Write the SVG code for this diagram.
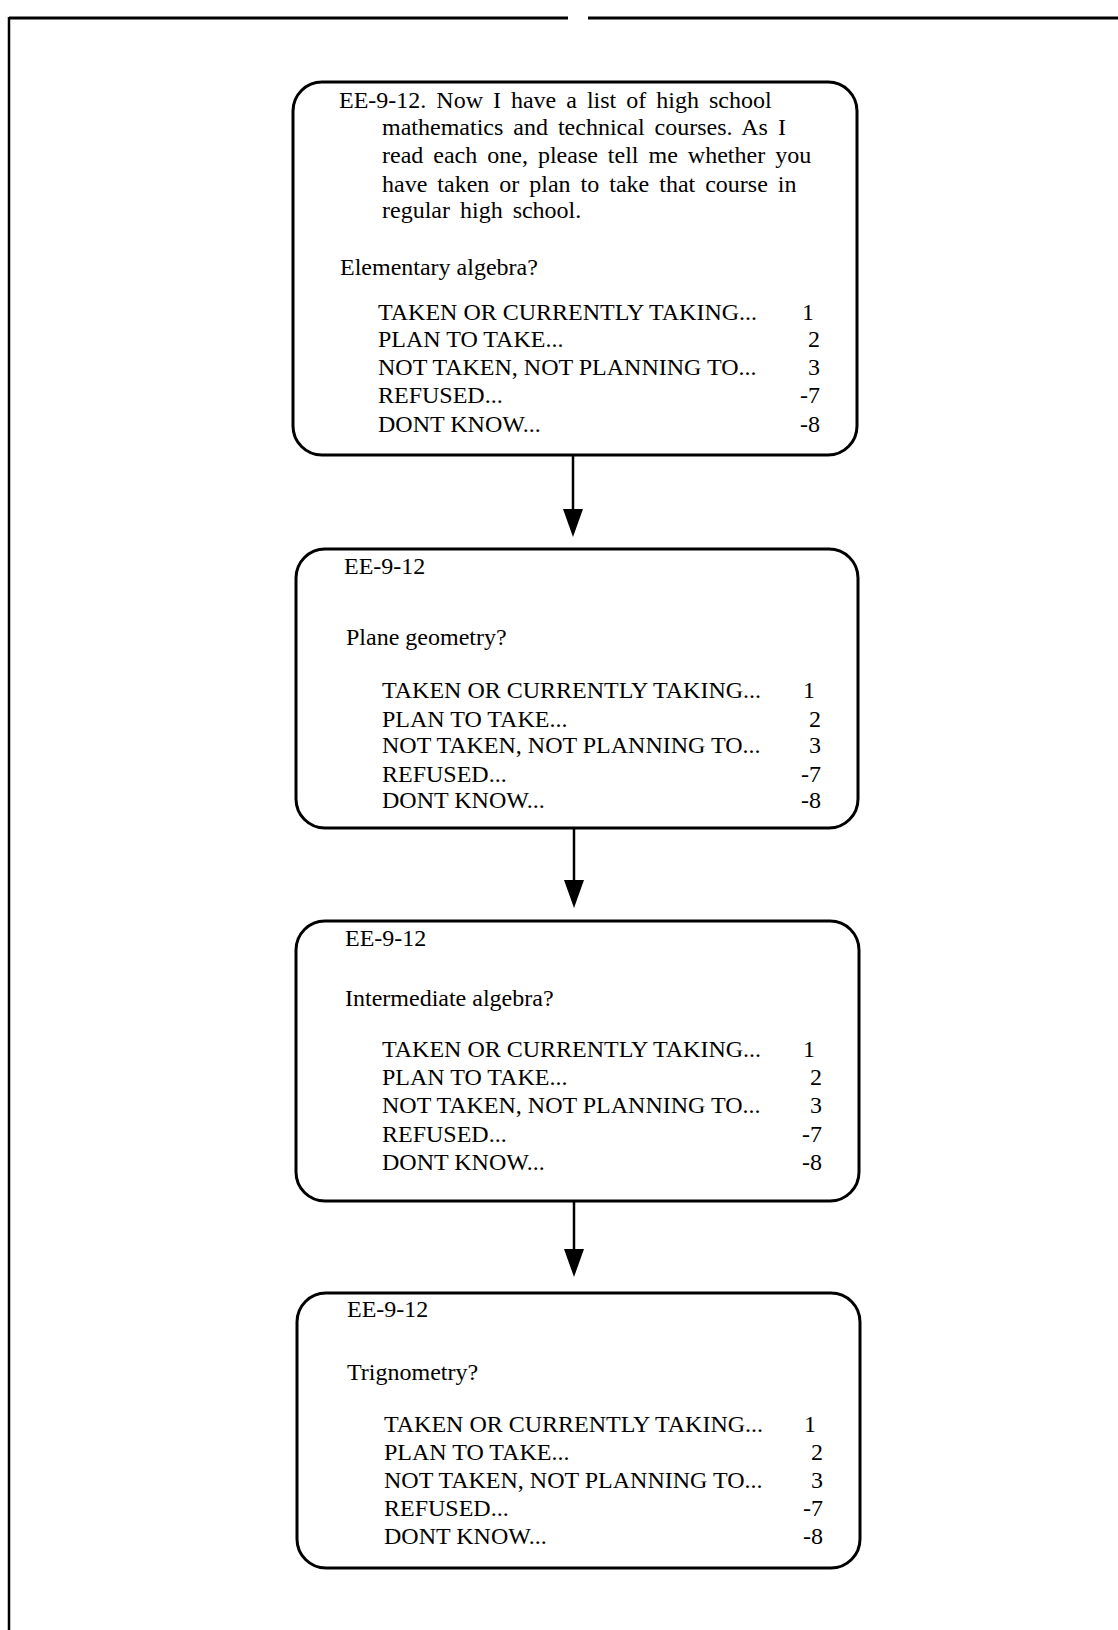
<svg xmlns="http://www.w3.org/2000/svg" width="1118" height="1630" viewBox="0 0 1118 1630">
<defs>
<style>
.box{fill:#fff;stroke:#000;stroke-width:3}
.t{font-family:"Liberation Serif","Times New Roman",serif;font-size:24px;fill:#000}
.q{word-spacing:4px}
.n{text-anchor:end}
.edge{stroke:#000;stroke-width:2.5;fill:none}
.frame{stroke:#000;fill:none}
</style>
<marker id="ah" markerUnits="userSpaceOnUse" markerWidth="28" markerHeight="22" viewBox="0 0 28 22" refX="18" refY="11" orient="auto">
<path d="M0,1 L28,11 L0,21 Z" fill="#000"/>
</marker>
</defs>
<rect width="1118" height="1630" fill="#fff"/>
<g id="frame">
<line class="frame" x1="9" y1="18" x2="568" y2="18" stroke-width="3"/>
<line class="frame" x1="588" y1="18" x2="1118" y2="18" stroke-width="3"/>
<line class="frame" x1="9" y1="17" x2="9" y2="1630" stroke-width="2.5"/>
</g>
<g id="connectors">
<line class="edge" x1="573" y1="455" x2="573" y2="527" marker-end="url(#ah)"/>
<line class="edge" x1="574" y1="828" x2="574" y2="898" marker-end="url(#ah)"/>
<line class="edge" x1="574" y1="1201" x2="574" y2="1267" marker-end="url(#ah)"/>
</g>
<g id="node1">
<rect class="box" x="293" y="82" width="564" height="373" rx="29" ry="29"/>
<text class="t q" x="339" y="108">EE-9-12. Now I have a list of high school</text>
<text class="t q" x="382" y="135">mathematics and technical courses. As I</text>
<text class="t q" x="382" y="163">read each one, please tell me whether you</text>
<text class="t q" x="382" y="192">have taken or plan to take that course in</text>
<text class="t q" x="382" y="218">regular high school.</text>
<text class="t" x="340" y="275">Elementary algebra?</text>
<text class="t" x="378" y="320">TAKEN OR CURRENTLY TAKING...</text>
<text class="t" x="378" y="347">PLAN TO TAKE...</text>
<text class="t" x="378" y="375">NOT TAKEN, NOT PLANNING TO...</text>
<text class="t" x="378" y="403">REFUSED...</text>
<text class="t" x="378" y="432">DONT KNOW...</text>
<text class="t n" x="814" y="320">1</text>
<text class="t n" x="820" y="347">2</text>
<text class="t n" x="820" y="375">3</text>
<text class="t n" x="820" y="403">-7</text>
<text class="t n" x="820" y="432">-8</text>
</g>
<g id="node2">
<rect class="box" x="296" y="549" width="562" height="279" rx="29" ry="29"/>
<text class="t" x="344" y="574">EE-9-12</text>
<text class="t" x="346" y="645">Plane geometry?</text>
<text class="t" x="382" y="698">TAKEN OR CURRENTLY TAKING...</text>
<text class="t" x="382" y="727">PLAN TO TAKE...</text>
<text class="t" x="382" y="753">NOT TAKEN, NOT PLANNING TO...</text>
<text class="t" x="382" y="782">REFUSED...</text>
<text class="t" x="382" y="808">DONT KNOW...</text>
<text class="t n" x="815" y="698">1</text>
<text class="t n" x="821" y="727">2</text>
<text class="t n" x="821" y="753">3</text>
<text class="t n" x="821" y="782">-7</text>
<text class="t n" x="821" y="808">-8</text>
</g>
<g id="node3">
<rect class="box" x="296" y="921" width="563" height="280" rx="29" ry="29"/>
<text class="t" x="345" y="946">EE-9-12</text>
<text class="t" x="345" y="1006">Intermediate algebra?</text>
<text class="t" x="382" y="1057">TAKEN OR CURRENTLY TAKING...</text>
<text class="t" x="382" y="1085">PLAN TO TAKE...</text>
<text class="t" x="382" y="1113">NOT TAKEN, NOT PLANNING TO...</text>
<text class="t" x="382" y="1142">REFUSED...</text>
<text class="t" x="382" y="1170">DONT KNOW...</text>
<text class="t n" x="815" y="1057">1</text>
<text class="t n" x="822" y="1085">2</text>
<text class="t n" x="822" y="1113">3</text>
<text class="t n" x="822" y="1142">-7</text>
<text class="t n" x="822" y="1170">-8</text>
</g>
<g id="node4">
<rect class="box" x="297" y="1293" width="563" height="275" rx="29" ry="29"/>
<text class="t" x="347" y="1317">EE-9-12</text>
<text class="t" x="347" y="1380">Trignometry?</text>
<text class="t" x="384" y="1432">TAKEN OR CURRENTLY TAKING...</text>
<text class="t" x="384" y="1460">PLAN TO TAKE...</text>
<text class="t" x="384" y="1488">NOT TAKEN, NOT PLANNING TO...</text>
<text class="t" x="384" y="1516">REFUSED...</text>
<text class="t" x="384" y="1544">DONT KNOW...</text>
<text class="t n" x="816" y="1432">1</text>
<text class="t n" x="823" y="1460">2</text>
<text class="t n" x="823" y="1488">3</text>
<text class="t n" x="823" y="1516">-7</text>
<text class="t n" x="823" y="1544">-8</text>
</g>
</svg>
